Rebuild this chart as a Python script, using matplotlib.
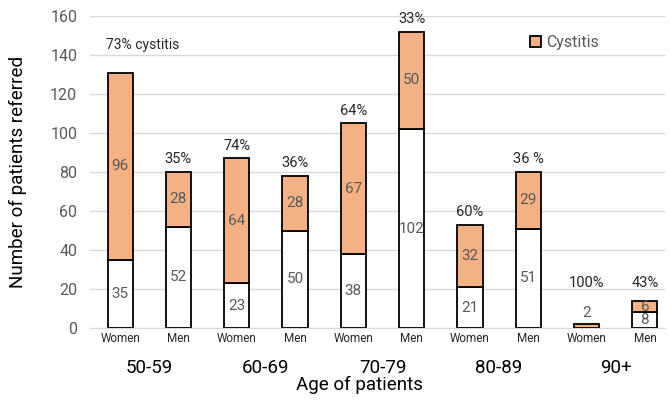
import matplotlib.pyplot as plt
import matplotlib.transforms as mtransforms

plt.rcParams['font.family'] = ['Roboto', 'DejaVu Sans']

groups = ['50-59', '60-69', '70-79', '80-89', '90+']
sexes = ['Women', 'Men'] * 5
no_cystitis = [35, 52, 23, 50, 38, 102, 21, 51, 0, 8]
cystitis = [96, 28, 64, 28, 67, 50, 32, 29, 2, 6]
pct_labels = ['73% cystitis', '35%', '74%', '36%', '64%', '33%', '60%', '36 %', '100%', '43%']

orange = '#F4B183'
grey_txt = '#595959'

fig = plt.figure(figsize=(6.7, 4), dpi=100)
ax = fig.add_axes([0.134, 0.18, 0.859, 0.78])

x = list(range(len(sexes)))
totals = [a + b for a, b in zip(no_cystitis, cystitis)]
w = 0.43

ax.bar(x, no_cystitis, width=w, color='white', edgecolor='black', linewidth=1.3, zorder=3)
ax.bar(x, cystitis, width=w, bottom=no_cystitis, color=orange, edgecolor='black',
       linewidth=1.3, zorder=3, label='Cystitis')

for i in x:
    if no_cystitis[i] > 0:
        ax.text(i, no_cystitis[i] / 2, str(no_cystitis[i]), ha='center', va='center',
                fontsize=11, color=grey_txt, zorder=4)
    if cystitis[i] >= 5:
        ax.text(i, no_cystitis[i] + cystitis[i] / 2, str(cystitis[i]), ha='center',
                va='center', fontsize=11, color=grey_txt, zorder=4)
    else:
        ax.annotate(str(cystitis[i]), (i, totals[i]), xytext=(0, 3),
                    textcoords='offset points', ha='center', va='bottom',
                    fontsize=11, color=grey_txt)

# percentage labels above the bars
for i in x:
    if i == 0:
        ax.annotate(pct_labels[i], (i - w / 2, totals[i]), xytext=(-1, 20),
                    textcoords='offset points', ha='left', va='center',
                    fontsize=10, color='#262626')
    elif i >= 8:
        ax.text(i, 23, pct_labels[i], ha='center', va='center', fontsize=10.5, color='#262626')
    else:
        ax.annotate(pct_labels[i], (i, totals[i]), xytext=(0, 4),
                    textcoords='offset points', ha='center', va='bottom',
                    fontsize=10.5, color='#262626')

ax.set_xlim(-0.52, 9.35)
ax.set_ylim(0, 160)
ax.set_yticks(range(0, 161, 20))
ax.grid(axis='y', color='#d9d9d9', linewidth=1, zorder=0)
ax.set_xticks(x)
ax.set_xticklabels(sexes, fontsize=8.5, color='#262626')
ax.tick_params(axis='x', length=0, pad=3)
ax.tick_params(axis='y', length=0, pad=9, labelsize=11.5, labelcolor=grey_txt)
for s in ['top', 'right', 'left']:
    ax.spines[s].set_visible(False)
ax.spines['bottom'].set_color('#d9d9d9')

trans = mtransforms.blended_transform_factory(ax.transData, ax.transAxes)
for g, name in enumerate(groups):
    ax.text(2 * g + 0.5, -0.128, name, transform=trans, ha='center', va='center',
            fontsize=13.5, color='black')

ax.set_ylabel('Number of patients referred', fontsize=13.5, labelpad=17)
fig.text(0.537, 0.038, 'Age of patients', ha='center', va='center', fontsize=13.5)

leg = ax.legend(loc='upper left', bbox_to_anchor=(0.74, 0.985), frameon=False,
                fontsize=11.5, handlelength=0.7, handleheight=0.7, handletextpad=0.3)
for t in leg.get_texts():
    t.set_color(grey_txt)

fig.savefig('out.png', dpi=100)
